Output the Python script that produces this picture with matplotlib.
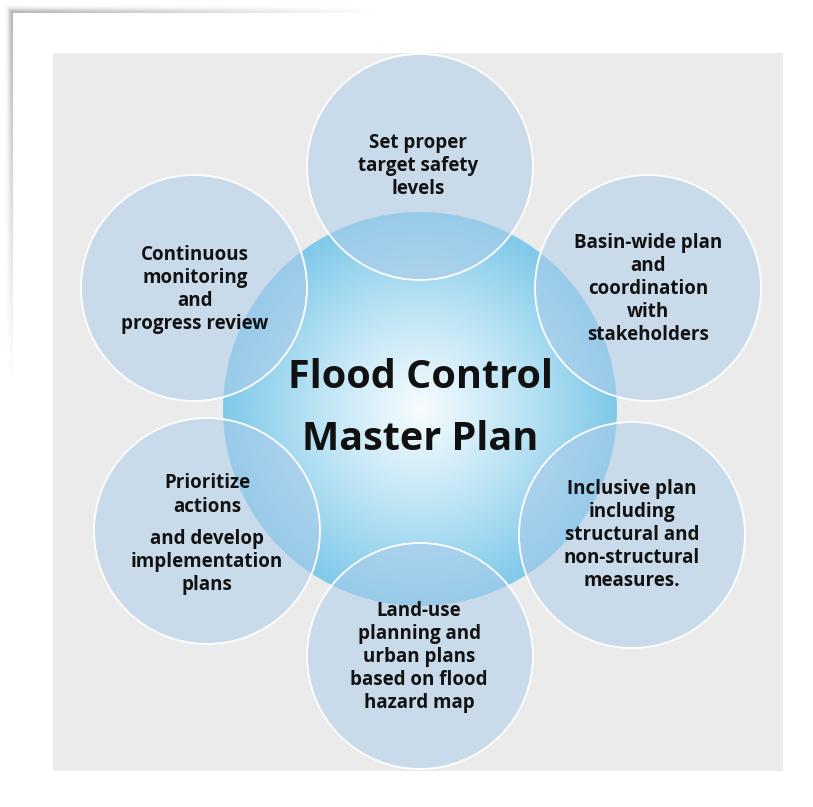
import numpy as np
import matplotlib.pyplot as plt
from matplotlib.patches import Circle, Rectangle
from matplotlib.colors import LinearSegmentedColormap

# diagram content
title = "Flood Control\nMaster Plan"
labels = [
    "Set proper\ntarget safety\nlevels",
    "Basin-wide plan\nand\ncoordination\nwith\nstakeholders",
    "Inclusive plan\nincluding\nstructural and\nnon-structural\nmeasures.",
    "Land-use\nplanning and\nurban plans\nbased on flood\nhazard map",
    "Prioritize\nactions",
    "Continuous\nmonitoring\nand\nprogress review",
]
# circle centres (pixel coords of the picture) and text centres
cx = [420, 648, 632, 420, 207, 194]
cy = [167, 288, 535, 656, 531, 288]
tx = [418, 648, 632, 419, 207, 195]
ty = [166, 289, 535, 657, 495, 289]
extra_text = "and develop\nimplementation\nplans"
extra_xy = (207, 562)

W, H = 813, 807
fig = plt.figure(figsize=(W / 100, H / 100), dpi=100)
ax = fig.add_axes([0, 0, 1, 1])
ax.set_xlim(0, W)
ax.set_ylim(H, 0)
ax.axis("off")

# shadow of the card (top and left edges)
yy, xx = np.mgrid[0:H, 0:W]
card = 13
dist = np.maximum(card - xx, card - yy).clip(0, None)
along = np.where(xx < card, yy, xx)
fade = np.clip(1 - along / 380.0, 0, 1)
inten = np.where(dist > 0, np.exp(-((dist - 1) / 4.0) ** 2) * fade * 0.45, 0)
shadow = np.zeros((H, W, 4))
shadow[..., :3] = 0.35
shadow[..., 3] = inten
ax.imshow(shadow, extent=(0, W, H, 0), zorder=0, interpolation="bilinear")

# grey panel
ax.add_patch(Rectangle((53, 53), 730, 718, facecolor="#ebebeb", edgecolor="none", zorder=1))

# central circle with radial gradient
ccx, ccy, cr = 420, 409, 197
cmap = LinearSegmentedColormap.from_list(
    "flood", [(0, "#f7fcfe"), (0.45, "#c4e7f6"), (1, "#7fc9e9")])
n = 400
g = np.linspace(-1, 1, n)
gx, gy = np.meshgrid(g, g)
rad = np.sqrt(gx ** 2 + gy ** 2)
img = ax.imshow(rad.clip(0, 1), cmap=cmap, vmin=0, vmax=1,
                extent=(ccx - cr, ccx + cr, ccy + cr, ccy - cr), zorder=2,
                interpolation="bilinear")
clip = Circle((ccx, ccy), cr, transform=ax.transData)
img.set_clip_path(clip)

# outer circles
for x, y in zip(cx, cy):
    ax.add_patch(Circle((x, y), 113, facecolor="#aeccea", alpha=0.55,
                        edgecolor="none", zorder=3))
    ax.add_patch(Circle((x, y), 113, facecolor="none", edgecolor="white",
                        linewidth=1.3, zorder=4))

font = "Open Sans"
for s, x, y in zip(labels, tx, ty):
    ax.text(x, y, s, ha="center", va="center", fontsize=13.5, fontweight="bold",
            family=font, color="#111111", linespacing=1.2, zorder=5)
ax.text(extra_xy[0], extra_xy[1], extra_text, ha="center", va="center",
        fontsize=13.5, fontweight="bold", family=font, color="#111111",
        linespacing=1.2, zorder=5)

ax.text(420, 378, "Flood Control", ha="center", va="center", fontsize=28.5,
        fontweight="bold", family=font, color="#111111", zorder=5)
ax.text(420, 440, "Master Plan", ha="center", va="center", fontsize=28.5,
        fontweight="bold", family=font, color="#111111", zorder=5)

fig.savefig("out.png", dpi=100, facecolor="white")
